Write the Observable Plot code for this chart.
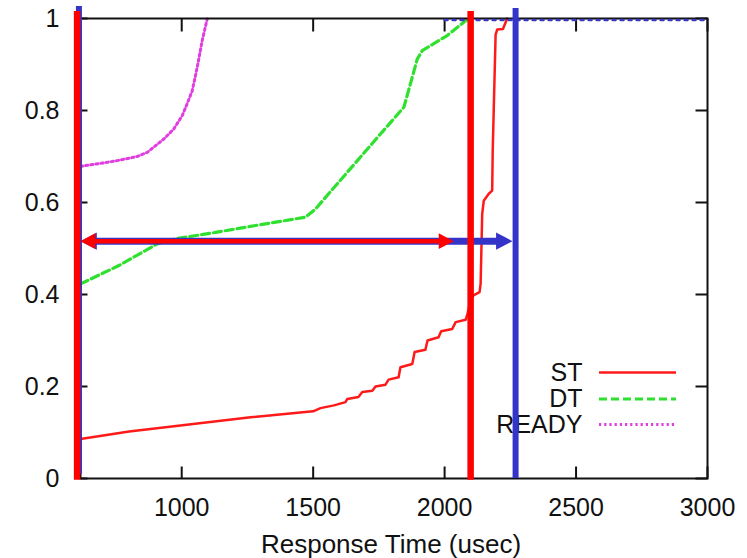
<!DOCTYPE html>
<html>
<head>
<meta charset="utf-8">
<script src="https://cdn.jsdelivr.net/npm/d3@7"></script>
<script src="https://cdn.jsdelivr.net/npm/@observablehq/plot@0.6"></script>
<style>
  html, body { margin: 0; padding: 0; background: #ffffff; }
</style>
</head>
<body>
<div id="chart"></div>
<script>
// ---- axes ----
const xTicks = [1000, 1500, 2000, 2500, 3000];
const yTicks = [0, 0.2, 0.4, 0.6, 0.8, 1];
const xDomain = [615, 3000];
const yDomain = [0, 1];
const xLabel = "Response Time (usec)";

// ---- series (CDF of response time) ----
const seriesNames = ["ST", "DT", "READY"];
const seriesColors = ["#ff1a1a", "#2fe02f", "#e03ee0"];

const stTime = [615, 800, 995, 1262, 1500, 1528, 1579, 1623, 1630, 1672, 1687, 1725, 1737, 1775, 1787, 1825, 1832, 1877, 1886, 1927, 1935, 1977, 1987, 2029, 2042, 2080, 2087, 2100, 2110, 2133, 2137, 2143, 2149, 2168, 2181, 2183, 2194, 2200, 2222, 2238];
const stCdf  = [0.086, 0.102, 0.115, 0.133, 0.146, 0.153, 0.159, 0.166, 0.173, 0.177, 0.188, 0.191, 0.200, 0.204, 0.215, 0.220, 0.242, 0.249, 0.275, 0.280, 0.300, 0.307, 0.320, 0.325, 0.340, 0.345, 0.358, 0.390, 0.398, 0.405, 0.423, 0.575, 0.604, 0.619, 0.626, 0.713, 0.965, 0.976, 0.977, 1.0];

const dtTime = [615, 761, 907, 976, 1129, 1281, 1471, 1509, 1756, 1845, 1870, 1896, 1915, 2010, 2091];
const dtCdf  = [0.423, 0.463, 0.510, 0.521, 0.535, 0.550, 0.568, 0.586, 0.749, 0.807, 0.858, 0.912, 0.930, 0.963, 1.0];

const readyTime = [615, 628, 691, 755, 830, 869, 932, 970, 1002, 1021, 1040, 1059, 1078, 1097];
const readyCdf  = [0.678, 0.680, 0.685, 0.691, 0.700, 0.709, 0.738, 0.760, 0.789, 0.815, 0.843, 0.894, 0.952, 0.999];

// dotted cap along y = 1 at the right
const capTime = [2000, 3000];
const capCdf  = [1, 1];

// ---- annotations ----
const redMarkerX = [602, 2099];
const redMarkerTop = [1.015, 1.015];
const redMarkerBottom = [-0.004, -0.004];
const blueMarkerX = [609, 2270];
const blueMarkerTop = [1.026, 1.022];
const blueMarkerBottom = [0.009, 0];
const arrowLevel = 0.516;
const redArrowEnds = [615, 2034];
const blueArrowEnds = [615, 2258];

// ---- build tables ----
const zip = (xs, ys) => xs.map((t, i) => ({t, p: ys[i]}));
const st = zip(stTime, stCdf);
const dt = zip(dtTime, dtCdf);
const ready = zip(readyTime, readyCdf);
const cap = zip(capTime, capCdf);
const redMarkers = redMarkerX.map((x, i) => ({x, y1: redMarkerBottom[i], y2: redMarkerTop[i]}));
const blueMarkers = blueMarkerX.map((x, i) => ({x, y1: blueMarkerBottom[i], y2: blueMarkerTop[i]}));
const redHeads = [{x: redArrowEnds[0], rot: 180}, {x: redArrowEnds[1], rot: 0}];
const blueHeads = [{x: blueArrowEnds[0], rot: 180}, {x: blueArrowEnds[1], rot: 0}];

// ---- custom symbols ----
const tickSym = (dx, dy) => ({draw(ctx) { ctx.moveTo(0, 0); ctx.lineTo(dx, dy); }});
const hline = (len) => ({draw(ctx) { ctx.moveTo(-len / 2, 0); ctx.lineTo(len / 2, 0); }});
const headSym = {draw(ctx, size) {
  const r = Math.sqrt(size / Math.PI);
  ctx.moveTo(0, 0); ctx.lineTo(-1.9 * r, -r); ctx.lineTo(-1.9 * r, r); ctx.closePath();
}};

const lineStyles = [
  {strokeWidth: 2.5, strokeDasharray: null},
  {strokeWidth: 3.2, strokeDasharray: "8,4"},
  {strokeWidth: 3, strokeDasharray: "2.2,3"}
];
const legendDy = [-106, -79.5, -54];

const legendMarks = seriesNames.flatMap((name, i) => [
  Plot.text([name], {text: d => d, frameAnchor: "bottom-right", dx: -125, dy: legendDy[i], textAnchor: "end", lineAnchor: "middle", fontSize: 25, fill: "#111"}),
  Plot.dot([name], {frameAnchor: "bottom-right", dx: -70, dy: legendDy[i], symbol: hline(77), fill: "none", stroke: seriesColors[i], strokeWidth: lineStyles[i].strokeWidth, strokeDasharray: lineStyles[i].strokeDasharray})
]);

const chart = Plot.plot({
  width: 747,
  height: 558,
  marginLeft: 80,
  marginRight: 40,
  marginTop: 18,
  marginBottom: 80,
  x: {domain: xDomain},
  y: {domain: yDomain},
  style: {fontFamily: "'Liberation Sans', Arial, Helvetica, sans-serif", background: "#ffffff", color: "#111"},
  marks: [
    Plot.axisX(xTicks, {tickSize: 0, tickPadding: 20, fontSize: 25, tickFormat: d => String(d), label: null}),
    Plot.axisY(yTicks, {tickSize: 0, tickPadding: 21, fontSize: 25, tickFormat: d => String(d), label: null}),
    Plot.text([xLabel], {text: d => d, frameAnchor: "bottom", dx: -3, dy: 66, fontSize: 26, lineAnchor: "middle"}),

    Plot.line(ready, {x: "t", y: "p", stroke: seriesColors[2], ...lineStyles[2]}),
    Plot.line(dt, {x: "t", y: "p", stroke: seriesColors[1], ...lineStyles[1]}),
    Plot.line(st, {x: "t", y: "p", stroke: seriesColors[0], strokeLinejoin: "round", ...lineStyles[0]}),

    Plot.frame({stroke: "#111", strokeWidth: 2}),
    Plot.dot(xTicks, {x: d => d, frameAnchor: "bottom", symbol: tickSym(0, -12), fill: "none", stroke: "#111", strokeWidth: 2}),
    Plot.dot(xTicks, {x: d => d, frameAnchor: "top", symbol: tickSym(0, 13), fill: "none", stroke: "#111", strokeWidth: 2}),
    Plot.dot(yTicks, {y: d => d, frameAnchor: "left", symbol: tickSym(7, 0), fill: "none", stroke: "#111", strokeWidth: 2}),
    Plot.dot(yTicks, {y: d => d, frameAnchor: "right", symbol: tickSym(-12, 0), fill: "none", stroke: "#111", strokeWidth: 2}),
    Plot.line(cap, {x: "t", y: "p", dy: 1.5, stroke: "#3a3ac0", strokeWidth: 2.4, strokeDasharray: "3,5"}),

    ...legendMarks,

    // blue annotation (behind red)
    Plot.ruleX(blueMarkers, {x: "x", y1: "y1", y2: "y2", stroke: "#3434c8", strokeWidth: 6}),
    Plot.ruleY([arrowLevel], {x1: blueArrowEnds[0], x2: blueArrowEnds[1], insetLeft: 10, insetRight: 10, stroke: "#3434c8", strokeWidth: 7}),
    Plot.dot(blueHeads, {x: "x", y: arrowLevel, rotate: "rot", r: 8.6, symbol: headSym, fill: "#3434c8", stroke: "none"}),
    // red annotation
    Plot.ruleX(redMarkers, {x: "x", y1: "y1", y2: "y2", stroke: "#ff0000", strokeWidth: 6.5}),
    Plot.ruleY([arrowLevel], {x1: redArrowEnds[0], x2: redArrowEnds[1], insetLeft: 10, insetRight: 10, stroke: "#ff0000", strokeWidth: 4.5}),
    Plot.dot(redHeads, {x: "x", y: arrowLevel, rotate: "rot", r: 7.8, symbol: headSym, fill: "#ff0000", stroke: "none"})
  ]
});

document.getElementById("chart").append(chart);
</script>
</body>
</html>
